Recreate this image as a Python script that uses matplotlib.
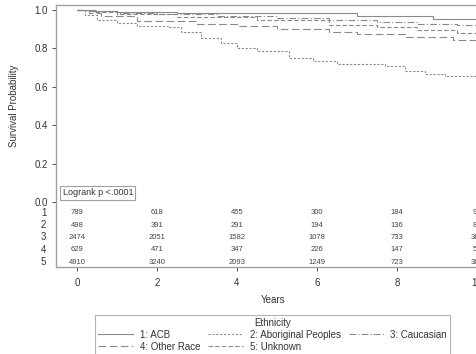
import matplotlib.pyplot as plt

plt.rcParams['font.family'] = ['Liberation Sans', 'DejaVu Sans']

# 生存曲线数据
t_acb = [0, 0.3, 1.0, 2.5, 4.0, 7.0, 8.9, 10.6]
s_acb = [1.0, 0.995, 0.99, 0.985, 0.982, 0.970, 0.951, 0.951]

t_abo = [0, 0.2, 0.5, 1.0, 1.5, 2.3, 2.6, 3.1, 3.6, 4.0, 4.5, 5.3, 5.9, 6.5, 7.7, 8.2, 8.7, 9.2, 10.0, 10.6]
s_abo = [1.0, 0.975, 0.948, 0.93, 0.917, 0.91, 0.886, 0.854, 0.83, 0.80, 0.785, 0.75, 0.735, 0.72, 0.71, 0.68, 0.668, 0.656, 0.646, 0.646]

t_cau = [0, 0.5, 1.0, 2.0, 3.5, 5.0, 6.3, 7.5, 8.5, 9.5, 10.6]
s_cau = [1.0, 0.993, 0.985, 0.978, 0.970, 0.960, 0.948, 0.940, 0.928, 0.922, 0.922]

t_oth = [0, 0.3, 0.6, 1.5, 3.0, 4.0, 5.0, 6.3, 7.0, 8.2, 9.4, 10.6]
s_oth = [1.0, 0.985, 0.97, 0.945, 0.925, 0.917, 0.90, 0.887, 0.875, 0.86, 0.844, 0.844]

t_unk = [0, 0.4, 1.0, 2.5, 4.5, 6.3, 7.5, 8.5, 9.5, 10.6]
s_unk = [1.0, 0.99, 0.98, 0.965, 0.95, 0.922, 0.91, 0.895, 0.88, 0.88]

# 风险人数表
risk_times = [0, 2, 4, 6, 8, 10]
risk_acb = [789, 618, 455, 300, 184, 92]
risk_abo = [498, 391, 291, 194, 136, 84]
risk_cau = [2474, 2051, 1582, 1078, 733, 380]
risk_oth = [629, 471, 347, 226, 147, 58]
risk_unk = [4910, 3240, 2093, 1249, 723, 361]

labels = ['1: ACB', '2: Aboriginal Peoples', '3: Caucasian', '4: Other Race', '5: Unknown']

W, H = 476, 354
fig = plt.figure(figsize=(W / 100, H / 100), dpi=100)
ax = fig.add_axes([56 / W, 1 - 267 / H, (490 - 56) / W, (267 - 5) / H])

grey = '#8a8a8a'
styles = [
    (t_acb, s_acb, '-'),
    (t_abo, s_abo, (0, (2, 1.5))),
    (t_cau, s_cau, (0, (6, 2, 1, 2))),
    (t_oth, s_oth, (0, (7, 3))),
    (t_unk, s_unk, (0, (4, 2))),
]
handles = []
for (t, s, ls), lab in zip(styles, labels):
    h, = ax.step(t, s, where='post', color=grey, lw=0.8, linestyle=ls, label=lab)
    handles.append(h)

ax.set_xlim(-0.525, 10.325)
ax.set_ylim(-0.339, 1.026)
ax.set_yticks([0, 0.2, 0.4, 0.6, 0.8, 1.0])
ax.set_yticklabels(['0.0', '0.2', '0.4', '0.6', '0.8', '1.0'])
ax.set_xticks(risk_times)
ax.tick_params(labelsize=7, colors='#333333', length=3, width=0.6, pad=3)
ax.tick_params(axis='x', pad=5)
for sp in ax.spines.values():
    sp.set_color('#a0a0a0')
    sp.set_linewidth(1.0)

ax.set_ylabel('Survival Probability', fontsize=7, color='#333333')
ax.yaxis.set_label_coords(-0.085, (0.5 + 0.339) / 1.365)
ax.set_xlabel('Years', fontsize=7, color='#333333', labelpad=5)

# Logrank 标注
ax.text(-0.36, 0.047, 'Logrank p <.0001', fontsize=6.5, color='#333333', va='center', ha='left',
        bbox=dict(boxstyle='square,pad=0.25', fc='white', ec='#a0a0a0', lw=0.8))

# 风险人数表
rows = [risk_acb, risk_abo, risk_cau, risk_oth, risk_unk]
row_y = [-0.057, -0.121, -0.185, -0.249, -0.313]
for i, (vals, y) in enumerate(zip(rows, row_y)):
    ax.text(-0.77, y, str(i + 1), fontsize=7, color='#333333', ha='right', va='center', clip_on=False)
    for t, v in zip(risk_times, vals):
        ax.text(t, y, str(v), fontsize=5.5, color='#444444', ha='center', va='center')

leg = fig.legend(handles=[handles[0], handles[3], handles[1], handles[4], handles[2]],
                 labels=[labels[0], labels[3], labels[1], labels[4], labels[2]],
                 ncol=3, loc='upper left', bbox_to_anchor=(95 / W, 1 - 315 / H),
                 fontsize=7, title='Ethnicity', title_fontsize=7, frameon=True, fancybox=False,
                 edgecolor='#a0a0a0', handlelength=3.6, handletextpad=0.7, columnspacing=0.8,
                 borderpad=0.3, labelspacing=0.2, borderaxespad=0)
leg.get_frame().set_linewidth(0.8)
for txt in leg.get_texts():
    txt.set_color('#333333')
leg.get_title().set_color('#333333')

fig.savefig('out.png', dpi=100)
